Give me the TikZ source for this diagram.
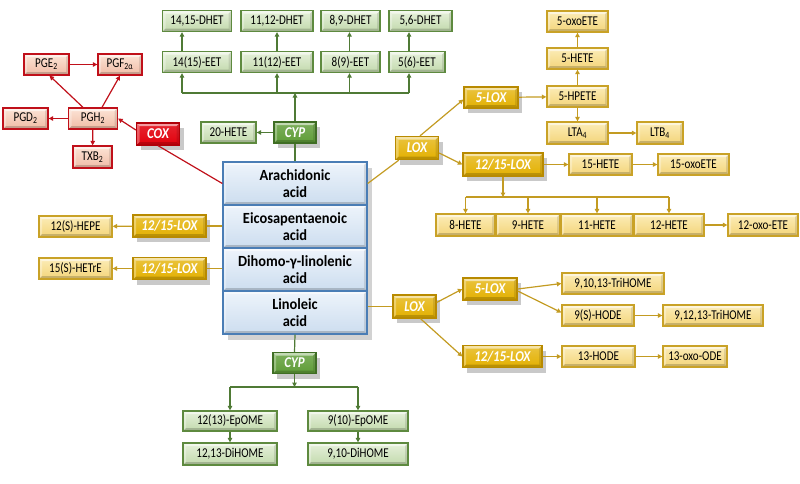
\documentclass[tikz,border=0pt]{standalone}
\usepackage{fontspec}
\setmainfont{Carlito}[FakeStretch=0.82]
\newfontfamily\enzfont{Carlito}[FakeStretch=0.86]
\newfontfamily\acidfont{Carlito}[FakeStretch=0.93]
\usetikzlibrary{arrows.meta,shadows,calc}
\definecolor{redbd}{HTML}{C0101A}
\definecolor{redhi}{HTML}{FCE4D6}
\definecolor{redlo}{HTML}{F0BCA6}
\definecolor{redenz}{HTML}{E2000C}
\definecolor{redenzbd}{HTML}{B00008}
\definecolor{grnbd}{HTML}{5E8A3F}
\definecolor{grnhi}{HTML}{E6F1DB}
\definecolor{grnlo}{HTML}{C2D9AC}
\definecolor{grnenz}{HTML}{5E9C36}
\definecolor{grnenzbd}{HTML}{3F6E24}
\definecolor{grnln}{HTML}{4F7A35}
\definecolor{ylwbd}{HTML}{C9A227}
\definecolor{ylwhi}{HTML}{FCEDB8}
\definecolor{ylwlo}{HTML}{F3D479}
\definecolor{ylwenz}{HTML}{E3B000}
\definecolor{ylwenzbd}{HTML}{B88A00}
\definecolor{ylwln}{HTML}{C39B22}
\definecolor{blubd}{HTML}{4A7DB5}
\definecolor{bluhi}{HTML}{EEF4FB}
\definecolor{blulo}{HTML}{CCDDEF}
\tikzset{
  bevel/.style={path picture={
    \fill[white,opacity=0.55] (path picture bounding box.north west) -- (path picture bounding box.north east) -- ([shift={(-3pt,-3pt)}]path picture bounding box.north east) -- ([shift={(3pt,-3pt)}]path picture bounding box.north west) -- cycle;
    \fill[white,opacity=0.3] (path picture bounding box.north west) -- ([shift={(3pt,-3pt)}]path picture bounding box.north west) -- ([shift={(3pt,3pt)}]path picture bounding box.south west) -- (path picture bounding box.south west) -- cycle;
    \fill[black,opacity=0.18] (path picture bounding box.south west) -- ([shift={(3pt,3pt)}]path picture bounding box.south west) -- ([shift={(-3pt,3pt)}]path picture bounding box.south east) -- (path picture bounding box.south east) -- cycle;
    \fill[black,opacity=0.1] (path picture bounding box.north east) -- ([shift={(-3pt,-3pt)}]path picture bounding box.north east) -- ([shift={(-3pt,3pt)}]path picture bounding box.south east) -- (path picture bounding box.south east) -- cycle;
  }},
  box/.style={draw, line width=1.3pt, minimum height=21pt, inner sep=0pt, font=\fontsize{13.5}{14}\selectfont, bevel},
  rbox/.style={box, draw=redbd, top color=redhi, bottom color=redlo},
  gbox/.style={box, draw=grnbd, top color=grnhi, bottom color=grnlo},
  ybox/.style={box, draw=ylwbd, top color=ylwhi, bottom color=ylwlo},
  enz/.style={box, minimum height=22pt, text=white, font=\enzfont\fontsize{15}{16}\bfseries\itshape\selectfont,
    drop shadow={shadow xshift=4pt, shadow yshift=-5pt, opacity=0.3, fill=black!70}},
  renz/.style={enz, draw=redenzbd, top color=redenz!85!white, bottom color=redenz},
  genz/.style={enz, draw=grnenzbd, top color=grnenz!80!white, bottom color=grnenz},
  yenz/.style={enz, draw=ylwenzbd, top color=ylwenz!75!white, bottom color=ylwenz},
  acid/.style={box, draw=blubd, top color=bluhi, bottom color=blulo, minimum width=144pt, minimum height=43pt,
    align=center, font=\acidfont\fontsize{15.5}{17.5}\bfseries\selectfont,
    drop shadow={shadow xshift=5pt, shadow yshift=-6pt, opacity=0.25, fill=black!70}},
  tip/.style={-{Triangle[length=4.5pt,width=4.5pt]}},
  rl/.style={draw=redbd, line width=1.2pt},
  gl/.style={draw=grnln, line width=1.2pt},
  yl/.style={draw=ylwln, line width=1.2pt},
  ra/.style={rl, tip}, ga/.style={gl, tip}, ya/.style={yl, tip}
}
\begin{document}
\begin{tikzpicture}[x=1pt,y=-1pt]
\useasboundingbox (0,0) rectangle (800,483);
% ---------- red (COX) ----------
\node[rbox, minimum width=45pt] (pge) at (46.5,64.5) {PGE\textsubscript{2}};
\node[rbox, minimum width=44pt] (pgf) at (120,64.5) {PGF\textsubscript{2α}};
\node[rbox, minimum width=49pt] (pgh) at (93,118.5) {PGH\textsubscript{2}};
\node[rbox, minimum width=45pt] (pgd) at (25.5,118.5) {PGD\textsubscript{2}};
\node[rbox, minimum width=39pt, minimum height=22pt] (txb) at (92.5,157) {TXB\textsubscript{2}};
\node[renz, minimum width=43pt] (cox) at (158,134) {COX};
% ---------- green top (CYP) ----------
\node[gbox, minimum width=69pt] (dhet14) at (197,21) {14,15-DHET};
\node[gbox, minimum width=72pt] (dhet11) at (277,21) {11,12-DHET};
\node[gbox, minimum width=59pt] (dhet8) at (350.5,21) {8,9-DHET};
\node[gbox, minimum width=63pt] (dhet5) at (420.5,21) {5,6-DHET};
\node[gbox, minimum width=69pt] (eet14) at (197,62) {14(15)-EET};
\node[gbox, minimum width=72pt] (eet11) at (277,62) {11(12)-EET};
\node[gbox, minimum width=59pt] (eet8) at (350.5,62) {8(9)-EET};
\node[gbox, minimum width=56pt] (eet5) at (417,62) {5(6)-EET};
\node[gbox, minimum width=55pt] (hete20) at (228.5,132.5) {20-HETE};
\node[genz, minimum width=42pt, minimum height=21pt] (cypa) at (295,132.5) {CYP};
% ---------- central acids ----------
\node[acid] (aa) at (295,183.5) {Arachidonic\\acid};
\node[acid] (epa) at (295,226.5) {Eicosapentaenoic\\acid};
\node[acid] (dgla) at (295,269.5) {Dihomo-γ-linolenic\\acid};
\node[acid] (la) at (295,312.5) {Linoleic\\acid};
% ---------- left LOX ----------
\node[yenz, minimum width=73pt] (loxe) at (169.5,226) {12/15-LOX};
\node[ybox, minimum width=73pt] (hepe) at (75.5,226.5) {12(S)-HEPE};
\node[yenz, minimum width=73pt] (loxd) at (169.5,268.5) {12/15-LOX};
\node[ybox, minimum width=73pt] (hetre) at (75.5,268.5) {15(S)-HETrE};
% ---------- right upper LOX ----------
\node[yenz, minimum width=43pt, minimum height=23pt] (loxa) at (417,148) {LOX};
\node[yenz, minimum width=54pt, minimum height=21pt] (lox5a) at (491,97.5) {5-LOX};
\node[ybox, minimum width=61pt] (hpete) at (577.5,96.5) {5-HPETE};
\node[ybox, minimum width=61pt] (hete5) at (577.5,58.5) {5-HETE};
\node[ybox, minimum width=61pt] (oxo5) at (577.5,21.5) {5-oxoETE};
\node[ybox, minimum width=61pt, minimum height=22pt] (lta) at (577.5,133) {LTA\textsubscript{4}};
\node[ybox, minimum width=46pt, minimum height=22pt] (ltb) at (660,133) {LTB\textsubscript{4}};
\node[yenz, minimum width=80pt, minimum height=23pt] (loxaa) at (503,164.5) {12/15-LOX};
\node[ybox, minimum width=63pt] (hete15) at (600.5,164.5) {15-HETE};
\node[ybox, minimum width=71pt] (oxo15) at (693.5,164.5) {15-oxoETE};
\node[ybox, minimum width=59pt, minimum height=22pt] (hete8) at (465.5,225) {8-HETE};
\node[ybox, minimum width=64pt, minimum height=22pt] (hete9) at (528,225) {9-HETE};
\node[ybox, minimum width=72pt, minimum height=22pt] (hete11) at (597,225) {11-HETE};
\node[ybox, minimum width=70pt, minimum height=22pt] (hete12) at (669,225) {12-HETE};
\node[ybox, minimum width=70pt, minimum height=22pt] (oxo12) at (763,225) {12-oxo-ETE};
% ---------- right lower LOX ----------
\node[yenz, minimum width=43pt, minimum height=23pt] (loxb) at (414.5,306.5) {LOX};
\node[yenz, minimum width=54pt] (lox5b) at (490,289) {5-LOX};
\node[ybox, minimum width=102pt] (tri1) at (613,283.5) {9,10,13-TriHOME};
\node[ybox, minimum width=72pt] (hode9) at (598,315.5) {9(S)-HODE};
\node[ybox, minimum width=100pt] (tri2) at (713,315.5) {9,12,13-TriHOME};
\node[yenz, minimum width=79pt] (loxlb) at (502.5,356.5) {12/15-LOX};
\node[ybox, minimum width=73pt] (hode13) at (598.5,356.5) {13-HODE};
\node[ybox, minimum width=64pt] (oxoode) at (695,356.5) {13-oxo-ODE};
% ---------- green bottom (CYP) ----------
\node[genz, minimum width=43pt, minimum height=21pt] (cypb) at (294.5,363) {CYP};
\node[gbox, minimum width=94pt, minimum height=20pt] (ep12) at (230,421) {12(13)-EpOME};
\node[gbox, minimum width=100pt, minimum height=20pt] (ep9) at (358,421) {9(10)-EpOME};
\node[gbox, minimum width=94pt, minimum height=22pt] (di12) at (230,454) {12,13-DiHOME};
\node[gbox, minimum width=100pt, minimum height=22pt] (di9) at (358,454) {9,10-DiHOME};
% ---------- bus coordinates ----------
\coordinate (g1) at (182,93);
\coordinate (g2) at (277,93);
\coordinate (g3) at (349.5,93);
\coordinate (g4) at (409,93);
\coordinate (ybus) at (503,197);
\coordinate (gbus) at (294.5,387);
% ---------- red connectors ----------
\draw[ra] (pge) -- (pgf);
\draw[ra] (pgh) -- (pgd);
\draw[ra] (pgh) -- (txb);
\draw[ra] ($(pgh.north)+(-10,0)$) -- ($(pge.south)+(3,0)$);
\draw[ra] ($(pgh.north)+(9,0)$) -- (pgf.south);
\draw[ra] ($(cox.west)+(0,-4)$) -- (pgh.east);
\draw[rl] (cox.south) -- (aa.west);
% ---------- green top connectors ----------
\draw[ga] (cypa.north) -- (cypa.north |- g1);
\draw[gl] (g1) -- (g4);
\foreach \p/\b/\d in {g1/eet14/dhet14, g2/eet11/dhet11, g3/eet8/dhet8, g4/eet5/dhet5}{
  \draw[ga] (\p) -- (\p |- \b.south);
  \draw[ga] (\p |- \b.north) -- (\p |- \d.south);
}
\draw[ga] (cypa) -- (hete20);
\draw[gl] (cypa.south) -- (aa.north);
% ---------- left connectors ----------
\draw[yl] (epa.west |- loxe) -- (loxe);
\draw[ya] (loxe) -- (hepe);
\draw[yl] (dgla.west |- loxd) -- (loxd);
\draw[ya] (loxd) -- (hetre);
% ---------- right upper connectors ----------
\draw[yl] (aa.east) -- ($(loxa.south west)+(4,0)$);
\draw[ya] ($(loxa.north)+(3,0)$) -- ($(lox5a.west)+(0,2)$);
\draw[ya] ($(loxa.east)+(0,5)$) -- (loxaa.west);
\draw[ya] (lox5a) -- (hpete);
\draw[ya] (hpete) -- (hete5);
\draw[ya] (hete5) -- (oxo5);
\draw[ya] (hpete) -- (lta);
\draw[ya] (lta) -- (ltb);
\draw[ya] (loxaa) -- (hete15);
\draw[ya] (hete15) -- (oxo15);
\draw[ya] (loxaa.south) -- (ybus);
\draw[yl] (hete8.north |- ybus) -- (hete12.north |- ybus);
\foreach \h in {hete8,hete9,hete11,hete12}{
  \draw[ya] (\h.north |- ybus) -- (\h.north);
}
\draw[ya] (hete12) -- (oxo12);
% ---------- right lower connectors ----------
\draw[yl] (la.east |- loxb.west) -- (loxb.west);
\draw[ya] ($(loxb.east)+(0,-4)$) -- (lox5b.west);
\draw[ya] ($(loxb.south)+(6,0)$) -- (loxlb.west);
\draw[ya] (lox5b.east) -- (tri1.west);
\draw[ya] ($(lox5b.east)+(0,2)$) -- ($(hode9.west)+(0,-3)$);
\draw[ya] (hode9) -- (tri2);
\draw[ya] (loxlb) -- (hode13);
\draw[ya] (hode13) -- (oxoode);
% ---------- green bottom connectors ----------
\draw[gl] (la.south) -- (cypb.north);
\draw[ga] (cypb.south) -- (gbus);
\draw[gl] (ep12.north |- gbus) -- (ep9.north |- gbus);
\draw[ga] (ep12.north |- gbus) -- (ep12.north);
\draw[ga] (ep9.north |- gbus) -- (ep9.north);
\draw[ga] (ep12) -- (di12);
\draw[ga] (ep9) -- (di9);
\end{tikzpicture}
\end{document}
